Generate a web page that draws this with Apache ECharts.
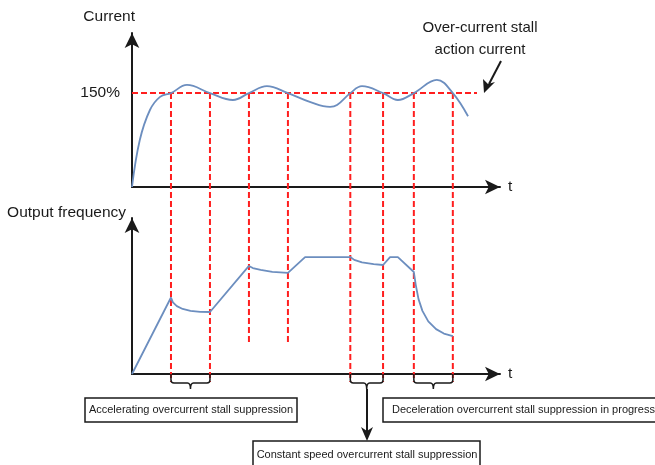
<!DOCTYPE html>
<html>
<head>
<meta charset="utf-8">
<script src="https://cdn.jsdelivr.net/npm/echarts@6/dist/echarts.min.js"></script>
<style>
  html, body { margin: 0; padding: 0; background: #fff; }
  #chart { width: 655px; height: 465px; }
</style>
</head>
<body>
<div id="chart"></div>
<script>
// time axis (arbitrary units), shared by both plots
const tMax = 9.44;

// current (%)
const currentT = [0, 0.2, 0.46, 0.72, 1, 1.41, 2, 2.59, 3, 3.46, 4, 4.56, 5.08, 5.26, 5.6, 5.9, 6.44, 6.82, 7.23, 7.82, 8.23, 8.62];
const currentV = [0, 75, 123, 144, 150, 163, 150, 139, 150, 161, 150, 136, 128, 131, 150, 161, 150, 139, 150, 171, 150, 113];
const currentMax = 246;
const stallLevel = 150;

// output frequency (Hz)
const freqT = [0, 1, 1.05, 1.15, 1.3, 1.5, 1.75, 2, 3, 3.1, 3.3, 3.6, 4, 4.44, 5.6, 5.7, 5.9, 6.2, 6.44, 6.62, 6.82, 7.23, 7.28, 7.35, 7.45, 7.6, 7.8, 8.0, 8.23];
const freqV = [0, 32.7, 30.6, 29.0, 27.8, 27.0, 26.6, 26.5, 46.2, 45.3, 44.5, 43.7, 43.2, 50, 50, 48.8, 47.7, 47.0, 46.6, 50, 50, 43.6, 38, 32, 27, 22.5, 19.2, 17.3, 16.2];
const freqMax = 66.7;

// stall suppression boundaries (vertical dashed lines) and how far down each one reaches (0 = below freq axis)
const edgeT = [1, 2, 3, 4, 5.6, 6.44, 7.23, 8.23];
const edgeBottom = [0, 0, 0.135, 0.135, 0, 0, 0, 0];
const levelLineEnd = 8.85;

// suppression intervals marked with braces
const braces = [[1, 2], [5.6, 6.44], [7.23, 8.23]];

const FONT = "'Liberation Sans', Arial, sans-serif";
const BLUE = '#6c8ebf';
const RED = '#ff1f1f';
const INK = '#1a1a1a';

const chart = echarts.init(document.getElementById('chart'));

const axisArrow = {
  show: true,
  symbol: ['none', 'arrow'],
  symbolSize: [11, 15],
  lineStyle: { color: INK, width: 2 },
};

const timeAxis = (gridIndex, show) => ({
  type: 'value',
  gridIndex,
  min: 0,
  max: tMax,
  show,
  name: show ? 't' : '',
  nameGap: 8,
  nameTextStyle: { fontFamily: FONT, fontSize: 15.5, color: INK },
  axisLine: axisArrow,
  axisTick: { show: false },
  axisLabel: { show: false },
  splitLine: { show: false },
});

const option = {
  animation: false,
  backgroundColor: '#fff',
  grid: [
    { left: 132, right: 155, top: 33, bottom: 278 },
    { left: 132, right: 155, top: 218, bottom: 91 },
    { left: 132, right: 155, top: 93, bottom: 83 },
  ],
  xAxis: [timeAxis(0, true), timeAxis(1, true), timeAxis(2, false)],
  yAxis: [
    {
      type: 'value',
      gridIndex: 0,
      min: 0,
      max: currentMax,
      interval: 150,
      name: 'Current',
      nameGap: 8,
      nameTextStyle: { fontFamily: FONT, fontSize: 15.5, color: INK, align: 'right', padding: [0, -3, 0, 0] },
      axisLine: axisArrow,
      axisTick: { show: false },
      axisLabel: {
        margin: 12,
        fontFamily: FONT,
        fontSize: 15.5,
        color: INK,
        formatter: (v) => (v === stallLevel ? stallLevel + '%' : ''),
      },
      splitLine: { show: false },
    },
    {
      type: 'value',
      gridIndex: 1,
      min: 0,
      max: freqMax,
      name: 'Output frequency',
      nameGap: -3,
      nameTextStyle: { fontFamily: FONT, fontSize: 15.5, color: INK, align: 'right', padding: [0, 6, 0, 0] },
      axisLine: axisArrow,
      axisTick: { show: false },
      axisLabel: { show: false },
      splitLine: { show: false },
    },
    { type: 'value', gridIndex: 2, min: 0, max: 1, show: false },
  ],
  series: [
    ...edgeT.map((t, i) => ({
      type: 'line',
      xAxisIndex: 2,
      yAxisIndex: 2,
      data: [[t, 1], [t, edgeBottom[i]]],
      symbol: 'none',
      z: 1,
      lineStyle: { color: RED, width: 2, type: [6, 3] },
    })),
    {
      type: 'line',
      xAxisIndex: 0,
      yAxisIndex: 0,
      data: [[0, stallLevel], [levelLineEnd, stallLevel]],
      symbol: 'none',
      z: 1,
      lineStyle: { color: RED, width: 2, type: [6, 3] },
    },
    {
      name: 'Current',
      type: 'line',
      xAxisIndex: 0,
      yAxisIndex: 0,
      data: currentT.map((t, i) => [t, currentV[i]]),
      smooth: 0.4,
      symbol: 'none',
      z: 3,
      lineStyle: { color: BLUE, width: 1.8 },
    },
    {
      name: 'Output frequency',
      type: 'line',
      xAxisIndex: 1,
      yAxisIndex: 1,
      data: freqT.map((t, i) => [t, freqV[i]]),
      symbol: 'none',
      z: 3,
      lineStyle: { color: BLUE, width: 1.8 },
    },
    {
      type: 'custom',
      xAxisIndex: 1,
      yAxisIndex: 1,
      data: braces,
      z: 4,
      renderItem: (params, api) => {
        const x1 = api.coord([api.value(0), 0])[0];
        const x2 = api.coord([api.value(1), 0])[0];
        const y0 = api.coord([0, 0])[1];
        const xm = (x1 + x2) / 2;
        const d =
          `M${x1},${y0} L${x1},${y0 + 6} Q${x1},${y0 + 9} ${x1 + 3},${y0 + 9} ` +
          `L${xm - 3},${y0 + 9} Q${xm},${y0 + 9} ${xm},${y0 + 15} Q${xm},${y0 + 9} ${xm + 3},${y0 + 9} ` +
          `L${x2 - 3},${y0 + 9} Q${x2},${y0 + 9} ${x2},${y0 + 6} L${x2},${y0}`;
        return {
          type: 'path',
          shape: { pathData: d },
          style: { stroke: INK, fill: null, lineWidth: 1.5 },
        };
      },
    },
  ],
  graphic: [
    {
      type: 'text',
      x: 480,
      y: 39,
      style: {
        text: 'Over-current stall\naction current',
        fontFamily: FONT,
        fontSize: 15,
        lineHeight: 22,
        fill: INK,
        align: 'center',
        verticalAlign: 'middle',
      },
    },
    {
      type: 'line',
      shape: { x1: 501, y1: 61, x2: 489, y2: 84 },
      style: { stroke: INK, lineWidth: 2 },
    },
    {
      type: 'polygon',
      shape: { points: [[484, 93], [483, 79], [488, 84], [495, 82]] },
      style: { fill: INK },
    },
    // brace -> box arrow for constant speed
    {
      type: 'line',
      shape: { x1: 367, y1: 389, x2: 367, y2: 432 },
      style: { stroke: INK, lineWidth: 2 },
    },
    {
      type: 'polygon',
      shape: { points: [[367, 441], [361, 427], [367, 431], [373, 427]] },
      style: { fill: INK },
    },
    {
      type: 'rect',
      shape: { x: 85, y: 398, width: 212, height: 24 },
      style: { fill: '#fff', stroke: INK, lineWidth: 1.5 },
    },
    {
      type: 'text',
      x: 191,
      y: 410,
      style: {
        text: 'Accelerating overcurrent stall suppression',
        fontFamily: FONT, fontSize: 11, fill: INK, align: 'center', verticalAlign: 'middle',
      },
    },
    {
      type: 'rect',
      shape: { x: 383, y: 398, width: 280, height: 24 },
      style: { fill: '#fff', stroke: INK, lineWidth: 1.5 },
    },
    {
      type: 'text',
      x: 392,
      y: 410,
      style: {
        text: 'Deceleration overcurrent stall suppression in progress',
        fontFamily: FONT, fontSize: 11, fill: INK, align: 'left', verticalAlign: 'middle',
      },
    },
    {
      type: 'rect',
      shape: { x: 253, y: 441, width: 227, height: 26 },
      style: { fill: '#fff', stroke: INK, lineWidth: 1.5 },
    },
    {
      type: 'text',
      x: 367,
      y: 455,
      style: {
        text: 'Constant speed overcurrent stall suppression',
        fontFamily: FONT, fontSize: 11, fill: INK, align: 'center', verticalAlign: 'middle',
      },
    },
  ],
};

chart.setOption(option);
window.addEventListener('resize', () => chart.resize());
</script>
</body>
</html>
